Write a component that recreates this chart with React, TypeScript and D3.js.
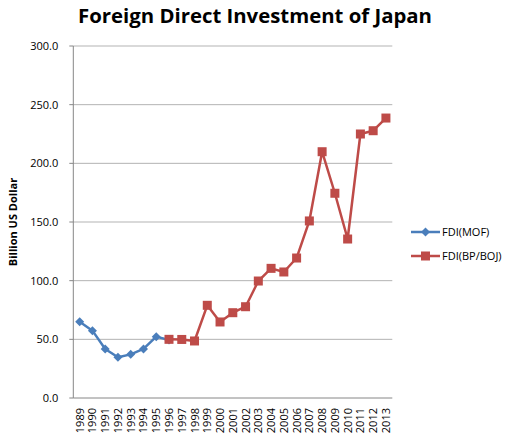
import React from "react";
import * as d3 from "d3";

const years = ["1989","1990","1991","1992","1993","1994","1995","1996","1997","1998","1999","2000","2001","2002","2003","2004","2005","2006","2007","2008","2009","2010","2011","2012","2013"];
const mofYears = ["1989","1990","1991","1992","1993","1994","1995","1996"];
const mofValues = [65.0, 57.4, 41.8, 34.7, 37.2, 41.8, 52.3, 49.4];
const bojYears = ["1996","1997","1998","1999","2000","2001","2002","2003","2004","2005","2006","2007","2008","2009","2010","2011","2012","2013"];
const bojValues = [50.0, 49.9, 48.6, 79.0, 64.8, 72.7, 77.8, 99.7, 110.5, 107.4, 119.3, 150.9, 209.9, 174.5, 135.5, 225.0, 227.8, 238.6];
const yTicks = [0, 50, 100, 150, 200, 250, 300];

const FONT = "'Open Sans', 'Liberation Sans', sans-serif";
const BLUE = "#4a7ebb";
const RED = "#be4b48";

export default function App() {
  const W = 513, H = 442;
  const left = 73.3, right = 392.3, top = 46, bottom = 398;
  const x = d3.scaleBand<string>().domain(years).range([left, right]);
  const y = d3.scaleLinear().domain([0, 300]).range([bottom, top]);
  const cx = (yr: string) => (x(yr) as number) + x.bandwidth() / 2;
  const line = d3.line<[string, number]>().x(d => cx(d[0])).y(d => y(d[1]));
  const mof: [string, number][] = mofYears.map((yr, i) => [yr, mofValues[i]]);
  const boj: [string, number][] = bojYears.map((yr, i) => [yr, bojValues[i]]);
  const diamond = (px: number, py: number, r: number) => `M${px},${py - r}L${px + r},${py}L${px},${py + r}L${px - r},${py}Z`;

  return (
    <svg width={W} height={H} style={{ position: "absolute", left: 0, top: 0, background: "#fff" }}>
      <text x={255} y={23} textAnchor="middle" fontFamily={FONT} fontWeight="bold" fontSize={19.5} textLength={354} lengthAdjust="spacingAndGlyphs" fill="#000">Foreign Direct Investment of Japan</text>
      {yTicks.filter(t => t > 0).map(t => (
        <line key={t} x1={left} x2={right} y1={y(t)} y2={y(t)} stroke="#b3b3b3" strokeWidth={1} />
      ))}
      {yTicks.map(t => (
        <g key={"t" + t}>
          <line x1={left - 4} x2={left} y1={y(t)} y2={y(t)} stroke="#868686" />
          <text x={left - 15} y={y(t) + 4} textAnchor="end" fontFamily={FONT} fontSize={11} fill="#000">{t.toFixed(1)}</text>
        </g>
      ))}
      <line x1={left} x2={left} y1={top} y2={bottom} stroke="#868686" />
      <line x1={left} x2={right} y1={bottom} y2={bottom} stroke="#868686" />
      {years.map(yr => (
        <text key={yr} transform={`translate(${cx(yr) + 4},${408}) rotate(-90)`} textAnchor="end" fontFamily={FONT} fontSize={11} fill="#000">{yr}</text>
      ))}
      <text transform={`translate(17,222) rotate(-90)`} textAnchor="middle" fontFamily={FONT} fontWeight="bold" fontSize={11} fill="#000">Billion US Dollar</text>
      <path d={line(mof) || ""} fill="none" stroke={BLUE} strokeWidth={2.5} strokeLinejoin="round" />
      {mof.map(d => (
        <path key={"m" + d[0]} d={diamond(cx(d[0]), y(d[1]), 4.5)} fill={BLUE} />
      ))}
      <path d={line(boj) || ""} fill="none" stroke={RED} strokeWidth={2.5} strokeLinejoin="round" />
      {boj.map(d => (
        <rect key={"b" + d[0]} x={cx(d[0]) - 4.5} y={y(d[1]) - 4.5} width={9} height={9} fill={RED} />
      ))}
      <line x1={411} x2={440} y1={232} y2={232} stroke={BLUE} strokeWidth={2.5} />
      <path d={diamond(425.5, 232, 4.5)} fill={BLUE} />
      <text x={442} y={236} fontFamily={FONT} fontSize={11} fill="#000">FDI(MOF)</text>
      <line x1={411} x2={440} y1={256} y2={256} stroke={RED} strokeWidth={2.5} />
      <rect x={421} y={251.5} width={9} height={9} fill={RED} />
      <text x={442} y={260} fontFamily={FONT} fontSize={11} fill="#000">FDI(BP/BOJ)</text>
    </svg>
  );
}
